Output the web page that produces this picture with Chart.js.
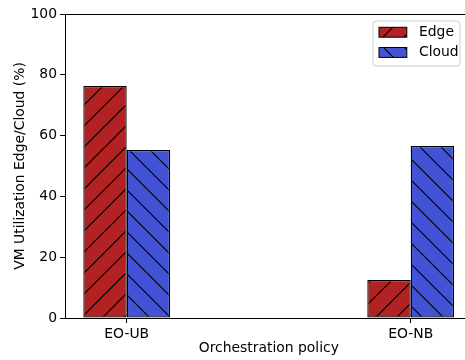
<!DOCTYPE html>
<html>
<head>
<meta charset="utf-8">
<script src="https://cdn.jsdelivr.net/npm/chart.js@4"></script>
<style>
  html, body { margin: 0; padding: 0; overflow: hidden; background: #fff; }
  #wrap { width: 480px; height: 360px; }
</style>
</head>
<body>
<div id="wrap"><canvas id="barChart" width="480" height="360"></canvas></div>
<script>
const policies = ['EO-UB', 'EO-NB'];
const edgeUtil = [76.3, 12.5];
const cloudUtil = [55.3, 56.6];
const yTicks = [0, 20, 40, 60, 80, 100];

const ctx = document.getElementById('barChart').getContext('2d');
const font = { family: 'DejaVu Sans', size: 13.9 };

// matplotlib-like hatch tile
function hatch(color, dir) {
  const s = 21;
  const c = document.createElement('canvas');
  c.width = s; c.height = s;
  const g = c.getContext('2d');
  g.fillStyle = color;
  g.fillRect(0, 0, s, s);
  g.strokeStyle = '#000';
  g.lineWidth = 1.2;
  g.beginPath();
  for (const o of [-s, 0, s]) {
    if (dir === '/') { g.moveTo(o, s); g.lineTo(o + s, 0); }
    else { g.moveTo(o, 0); g.lineTo(o + s, s); }
  }
  g.stroke();
  return ctx.createPattern(c, 'repeat');
}

const edgeFill = hatch('#b22222', '/');
const cloudFill = hatch('#4353d6', '\\');

const frameAndLegend = {
  id: 'frameAndLegend',
  afterDraw(chart) {
    const c = chart.ctx, a = chart.chartArea;
    c.save();
    c.strokeStyle = '#000';
    c.lineWidth = 1;
    c.beginPath();
    c.moveTo(a.left, a.top + 0.5);
    c.lineTo(a.right, a.top + 0.5);
    c.stroke();

    // legend box, upper right
    const bx = a.right - 99.6, by = a.top + 7, bw = 87, bh = 45, r = 3;
    c.beginPath();
    c.moveTo(bx + r, by);
    c.arcTo(bx + bw, by, bx + bw, by + bh, r);
    c.arcTo(bx + bw, by + bh, bx, by + bh, r);
    c.arcTo(bx, by + bh, bx, by, r);
    c.arcTo(bx, by, bx + bw, by, r);
    c.closePath();
    c.fillStyle = 'rgba(255,255,255,0.8)';
    c.fill();
    c.strokeStyle = '#cccccc';
    c.stroke();

    c.font = font.size + 'px ' + font.family;
    c.textBaseline = 'middle';
    c.textAlign = 'left';
    chart.data.datasets.forEach((ds, i) => {
      const py = a.top + 13.3 + i * 20.2;
      c.fillStyle = ds.backgroundColor;
      c.fillRect(a.right - 93.6, py, 27.8, 9.9);
      c.strokeStyle = '#000';
      c.strokeRect(a.right - 93.6, py, 27.8, 9.9);
      c.fillStyle = '#000';
      c.fillText(ds.label, a.right - 53.6, py + 5.2);
    });
    c.restore();
  }
};

new Chart(ctx, {
  type: 'bar',
  data: {
    datasets: [{
      label: 'Edge',
      data: policies.map((p, i) => ({ x: i, y: edgeUtil[i] })),
      backgroundColor: edgeFill,
      borderColor: '#000',
      borderWidth: 1.3,
      borderSkipped: false
    }, {
      label: 'Cloud',
      data: policies.map((p, i) => ({ x: i, y: cloudUtil[i] })),
      backgroundColor: cloudFill,
      borderColor: '#000',
      borderWidth: 1.3,
      borderSkipped: false
    }]
  },
  options: {
    responsive: false,
    animation: false,
    categoryPercentage: 0.3056,
    barPercentage: 1,
    layout: { padding: { top: 14, right: 7.4, bottom: 0, left: 0 } },
    plugins: { legend: { display: false }, tooltip: { enabled: false } },
    scales: {
      x: {
        type: 'linear',
        offset: false,
        min: -0.2173,
        max: 1.218,
        afterBuildTicks: s => { s.ticks = policies.map((p, i) => ({ value: i })); },
        afterFit: s => { s.height = 42; },
        ticks: { callback: v => policies[v], color: '#000', font: font, padding: 3, maxRotation: 0 },
        grid: { offset: false, drawOnChartArea: false, drawTicks: true, tickLength: 5, color: '#000' },
        border: { display: true, color: '#000', width: 1 },
        title: { display: true, text: 'Orchestration policy', color: '#000', font: font, padding: { top: 0, bottom: 3.2 } }
      },
      y: {
        min: 0,
        max: 100,
        afterBuildTicks: s => { s.ticks = yTicks.map(v => ({ value: v })); },
        afterFit: s => { s.width = 65; },
        ticks: { color: '#000', font: font, padding: 3 },
        grid: { drawOnChartArea: false, drawTicks: true, tickLength: 5, color: '#000' },
        border: { display: true, color: '#000', width: 1 },
        title: { display: true, text: 'VM Utilization Edge/Cloud (%)', color: '#000', font: font, padding: { top: 12.2, bottom: 0 } }
      }
    }
  },
  plugins: [frameAndLegend]
});
</script>
</body>
</html>
